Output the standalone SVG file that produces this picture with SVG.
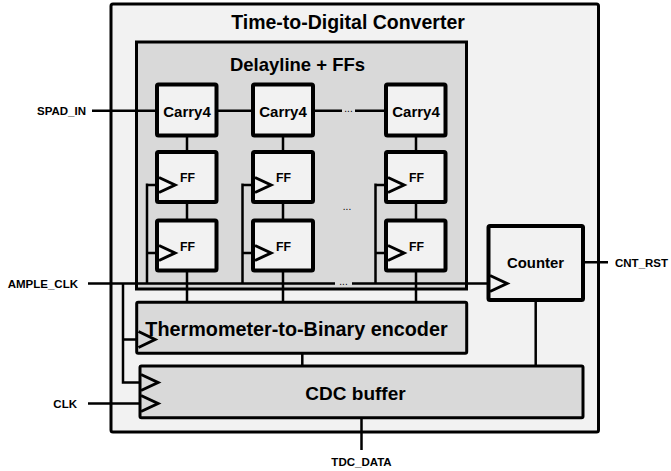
<svg xmlns="http://www.w3.org/2000/svg" width="671" height="471" viewBox="0 0 671 471">
<style>
text{font-family:"Liberation Sans",Arial,sans-serif;font-weight:bold;fill:#000}
.lt{fill:#f2f2f2;stroke:#000;stroke-width:3}
.dk{fill:#d9d9d9;stroke:#000;stroke-width:3}
.cell{fill:#f2f2f2;stroke:#000;stroke-width:4}
.w{fill:none;stroke:#000;stroke-width:2.5}
.clk{fill:none;stroke:#000;stroke-width:3;stroke-linejoin:miter}
.lbl{font-size:11.5px}
.dots{font-size:10px;font-weight:normal}
</style>
<rect width="671" height="471" fill="#fff"/>
<g id="tdc">
<rect class="lt" x="111" y="4" width="487.5" height="428" rx="2"/>
<text x="348" y="29" font-size="19.5" text-anchor="middle">Time-to-Digital Converter</text>
</g>
<g id="delayline">
<rect class="dk" x="136.5" y="42" width="330" height="247"/>
<text x="297.5" y="71" font-size="18.5" text-anchor="middle">Delayline + FFs</text>
</g>
<g id="connectors">
<path class="w" d="M92 110.7H157M216.5 110.7H253M313 110.7H342M355 110.7H386"/>
<path class="w" d="M187 135.5V152M187 202V220.5M283 135.5V152M283 202V220.5M416 135.5V152M416 202V220.5"/>
<path class="w" d="M187 270.5V302.3M283 270.5V302.3M416 270.5V302.3"/>
<path class="w" d="M147 185H159M147 253H159M147 183.5V283.5M242.5 185H255M242.5 253H255M242.5 183.5V283.5M375.5 185H388M375.5 253H388M375.5 183.5V283.5"/>
<path class="w" d="M88 283.5H335M352 283.5H490"/>
<path class="w" d="M123 283.5V382.5H141M123 339.5H138.5M88 403.5H141"/>
<path class="w" d="M302.3 353.3V366M535.7 300V366M583 262.3H608M361.5 417.7V450"/>
<text class="dots" x="348.5" y="111.5" text-anchor="middle">...</text>
<text class="dots" x="347" y="210" text-anchor="middle">...</text>
<text class="dots" x="343.5" y="285" text-anchor="middle">...</text>
</g>
<g id="carry1"><rect class="cell" x="157" y="84.5" width="59.5" height="51" rx="1.5"/><text x="187" y="116.5" font-size="15" text-anchor="middle">Carry4</text></g>
<g id="carry2"><rect class="cell" x="253" y="84.5" width="60" height="51" rx="1.5"/><text x="283" y="116.5" font-size="15" text-anchor="middle">Carry4</text></g>
<g id="carry3"><rect class="cell" x="386" y="84.5" width="59.5" height="51" rx="1.5"/><text x="416" y="116.5" font-size="15" text-anchor="middle">Carry4</text></g>
<g id="ff11"><rect class="cell" x="157" y="152" width="59.5" height="50" rx="1.5"/><path class="clk" d="M159 177.5L175 185L159 192.5"/><text x="180" y="182" font-size="12.3">FF</text></g>
<g id="ff12"><rect class="cell" x="157" y="220.5" width="59.5" height="50" rx="1.5"/><path class="clk" d="M159 245.5L175 253L159 260.5"/><text x="180" y="250.5" font-size="12.3">FF</text></g>
<g id="ff21"><rect class="cell" x="253" y="152" width="60" height="50" rx="1.5"/><path class="clk" d="M255 177.5L271 185L255 192.5"/><text x="276" y="182" font-size="12.3">FF</text></g>
<g id="ff22"><rect class="cell" x="253" y="220.5" width="60" height="50" rx="1.5"/><path class="clk" d="M255 245.5L271 253L255 260.5"/><text x="276" y="250.5" font-size="12.3">FF</text></g>
<g id="ff31"><rect class="cell" x="386" y="152" width="59.5" height="50" rx="1.5"/><path class="clk" d="M388 177.5L404 185L388 192.5"/><text x="409" y="182" font-size="12.3">FF</text></g>
<g id="ff32"><rect class="cell" x="386" y="220.5" width="59.5" height="50" rx="1.5"/><path class="clk" d="M388 245.5L404 253L388 260.5"/><text x="409" y="250.5" font-size="12.3">FF</text></g>
<g id="counter"><rect class="cell" x="488.5" y="226" width="94.5" height="74" rx="1.5"/><path class="clk" d="M490 275.5L507 283.5L490 291.5"/><text x="535.5" y="268" font-size="14.9" text-anchor="middle">Counter</text></g>
<g id="thermo"><rect class="dk" x="136.7" y="302.3" width="330" height="51" rx="1.5" stroke-width="3.5"/><path class="clk" d="M138.5 331.5L155 339.5L138.5 347.5"/><text x="296.5" y="336" font-size="19.8" text-anchor="middle">Thermometer-to-Binary encoder</text></g>
<g id="cdc"><rect class="dk" x="140" y="366" width="443" height="51.7" rx="1.5" stroke-width="3.5"/><path class="clk" d="M141 374.5L158 382.5L141 390.5M141 395.5L158 403.5L141 411.5"/><text x="355.5" y="400" font-size="19" text-anchor="middle">CDC buffer</text></g>
<g id="labels">
<text class="lbl" x="86" y="115" text-anchor="end">SPAD_IN</text>
<text class="lbl" x="78" y="287.5" text-anchor="end">AMPLE_CLK</text>
<text class="lbl" x="77" y="408" text-anchor="end">CLK</text>
<text class="lbl" x="615" y="267.3">CNT_RST</text>
<text class="lbl" x="361.5" y="466" text-anchor="middle">TDC_DATA</text>
</g>
</svg>
